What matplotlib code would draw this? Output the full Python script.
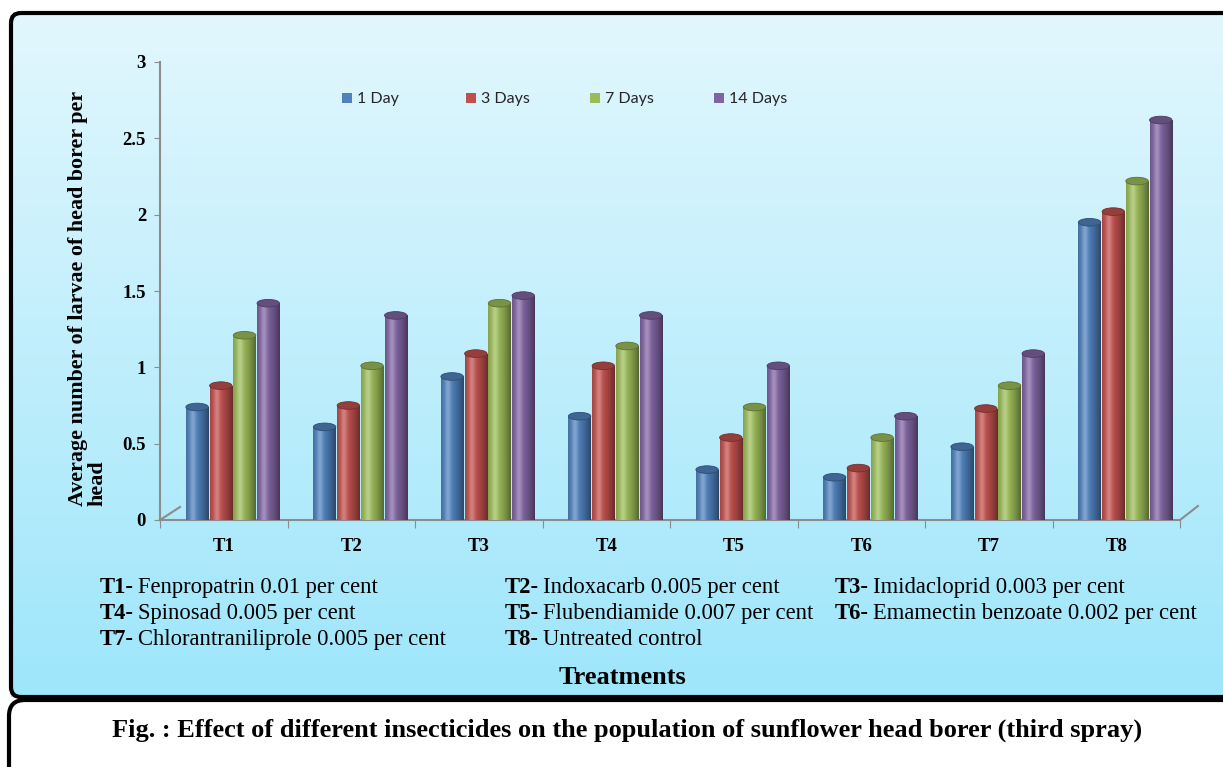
import numpy as np
import matplotlib
matplotlib.use("Agg")
import matplotlib.pyplot as plt
from matplotlib.patches import Ellipse, FancyBboxPatch, Rectangle
from matplotlib.colors import to_rgb

# Larval population per treatment after the third spray
treatments = ["T1", "T2", "T3", "T4", "T5", "T6", "T7", "T8"]
series_names = ["1 Day", "3 Days", "7 Days", "14 Days"]
day1 = [0.74, 0.61, 0.94, 0.68, 0.33, 0.28, 0.48, 1.95]
day3 = [0.88, 0.75, 1.09, 1.01, 0.54, 0.34, 0.73, 2.02]
day7 = [1.21, 1.01, 1.42, 1.14, 0.74, 0.54, 0.88, 2.22]
day14 = [1.42, 1.34, 1.47, 1.34, 1.01, 0.68, 1.09, 2.62]
series_colors = ["#4F81BD", "#C0504D", "#9BBB59", "#8064A2"]

treatment_notes = [
    ("T1-", "Fenpropatrin 0.01 per cent"),
    ("T2-", "Indoxacarb 0.005 per cent"),
    ("T3-", "Imidacloprid 0.003 per cent"),
    ("T4-", "Spinosad 0.005 per cent"),
    ("T5-", "Flubendiamide 0.007 per cent"),
    ("T6-", "Emamectin benzoate 0.002 per cent"),
    ("T7-", "Chlorantraniliprole 0.005 per cent"),
    ("T8-", "Untreated control"),
]

SERIF = "Liberation Serif"
W, H = 1223, 767

fig = plt.figure(figsize=(W / 100, H / 100), dpi=100)

# background layer in pixel coordinates
bg = fig.add_axes([0, 0, 1, 1], zorder=-10)
bg.set_xlim(0, W)
bg.set_ylim(H, 0)
bg.axis("off")
top_c = np.array(to_rgb("#e2f7fd"))
bot_c = np.array(to_rgb("#9ee6fb"))
t = np.linspace(0, 1, 256)[:, None, None]
grad = top_c * (1 - t) + bot_c * t
grad = np.repeat(grad, 2, axis=1)
bg.imshow(grad, extent=(11, W + 20, 697, 13), aspect="auto", zorder=0)
bg.add_patch(FancyBboxPatch((11, 13), W + 40, 684,
                            boxstyle="round,pad=0,rounding_size=10",
                            fc="none", ec="black", lw=3, zorder=2))
bg.add_patch(FancyBboxPatch((9, 700), W + 40, 120,
                            boxstyle="round,pad=0,rounding_size=16",
                            fc="white", ec="black", lw=3, zorder=3))

# series key along the top, evenly spaced
for j, (name, col) in enumerate(zip(series_names, series_colors)):
    lx = 342 + 124 * j
    bg.add_patch(Rectangle((lx, 93), 10, 10, fc=col, ec="none", zorder=4))
    bg.text(lx + 15, 98.5, name, va="center", ha="left",
            fontfamily="Lato", fontsize=11.5, color="#262626", zorder=4)

# main chart
ax = fig.add_axes([160 / W, 1 - 520 / H, 1020 / W, 458 / H])
ax.set_facecolor("none")

values = [day1, day3, day7, day14]
x = np.arange(len(treatments))
bw = 0.176
step = 0.186
shift = 0.07
cap_h = 0.05

u = np.linspace(0, 1, 80)
dark = 1 - 0.45 * (np.abs(u - 0.32) / 0.68) ** 1.6
light = 0.28 * np.exp(-((u - 0.3) / 0.14) ** 2)

for j, (vals, col) in enumerate(zip(values, series_colors)):
    base = np.array(to_rgb(col))
    xs = x + (j - 1.5) * step + shift
    bars = ax.bar(xs, vals, width=bw, color=col, edgecolor="none", zorder=3)
    shade = base[None, :] * dark[:, None] + light[:, None] * (1 - base[None, :])
    shade = np.clip(shade, 0, 1)[None, :, :]
    for b, xc, v in zip(bars, xs, vals):
        ax.add_patch(Ellipse((xc, 0), bw, cap_h, fc=base * 0.8, ec="none", zorder=2))
        im = ax.imshow(shade, extent=(xc - bw / 2, xc + bw / 2, 0, v),
                       aspect="auto", zorder=4)
        im.set_clip_path(b)
        ax.add_patch(Ellipse((xc, v), bw, cap_h, fc=base * 0.78,
                             ec=base * 0.6, lw=0.6, zorder=5))

ax.set_xlim(-0.5, len(treatments) - 0.5)
ax.set_ylim(0, 3)

for s in ["top", "right"]:
    ax.spines[s].set_visible(False)
for s in ["left", "bottom"]:
    ax.spines[s].set_color("#8c8c8c")
    ax.spines[s].set_linewidth(1.5)

ax.set_yticks(np.arange(0, 3.01, 0.5))
ax.set_yticklabels(["0", "0.5", "1", "1.5", "2", "2.5", "3"],
                   fontfamily=SERIF, fontweight="bold", fontsize=13.5)
ax.tick_params(axis="y", length=4, color="#8c8c8c", pad=6)

ax.set_xticks(np.arange(-0.5, len(treatments), 1.0))
ax.set_xticklabels([])
ax.tick_params(axis="x", which="major", length=6, color="#8c8c8c", direction="out")
ax.set_xticks(x, minor=True)
ax.set_xticklabels(treatments, minor=True, fontfamily=SERIF,
                   fontweight="bold", fontsize=13.5)
ax.tick_params(axis="x", which="minor", length=0, pad=13)

# floor edges
ax.plot([0, 0.0196], [0, 0.0284], color="#8c8c8c", lw=1.5,
        transform=ax.transAxes, clip_on=False)
ax.plot([1, 1.0176], [0, 0.0306], color="#8c8c8c", lw=1.5,
        transform=ax.transAxes, clip_on=False)

fig.text(88 / W, 1 - 506 / H,
         "Average number of larvae of head borer per\nhead",
         rotation=90, ha="center", va="bottom", multialignment="left",
         fontfamily=SERIF, fontweight="bold", fontsize=15.8, linespacing=0.95)

# treatment key under the axis
renderer = fig.canvas.get_renderer()
col_x = [100, 505, 835]
row_y = [593, 619, 645]
for k, (code, name) in enumerate(treatment_notes):
    px = col_x[k % 3]
    py = row_y[k // 3]
    tb = fig.text(px / W, 1 - py / H, code, fontfamily=SERIF,
                  fontweight="bold", fontsize=16.3, va="baseline")
    wpx = tb.get_window_extent(renderer).width
    fig.text((px + wpx + 4) / W, 1 - py / H, name, fontfamily=SERIF,
             fontsize=16.3, va="baseline")

fig.text(622 / W, 1 - 677 / H, "Treatments", ha="center", va="center",
         fontfamily=SERIF, fontweight="bold", fontsize=19)

fig.text(627 / W, 1 - 730 / H,
         "Fig. : Effect of different insecticides on the population of sunflower head borer (third spray)",
         ha="center", va="center", fontfamily=SERIF, fontweight="bold", fontsize=19)

fig.savefig("out.png", dpi=100)
